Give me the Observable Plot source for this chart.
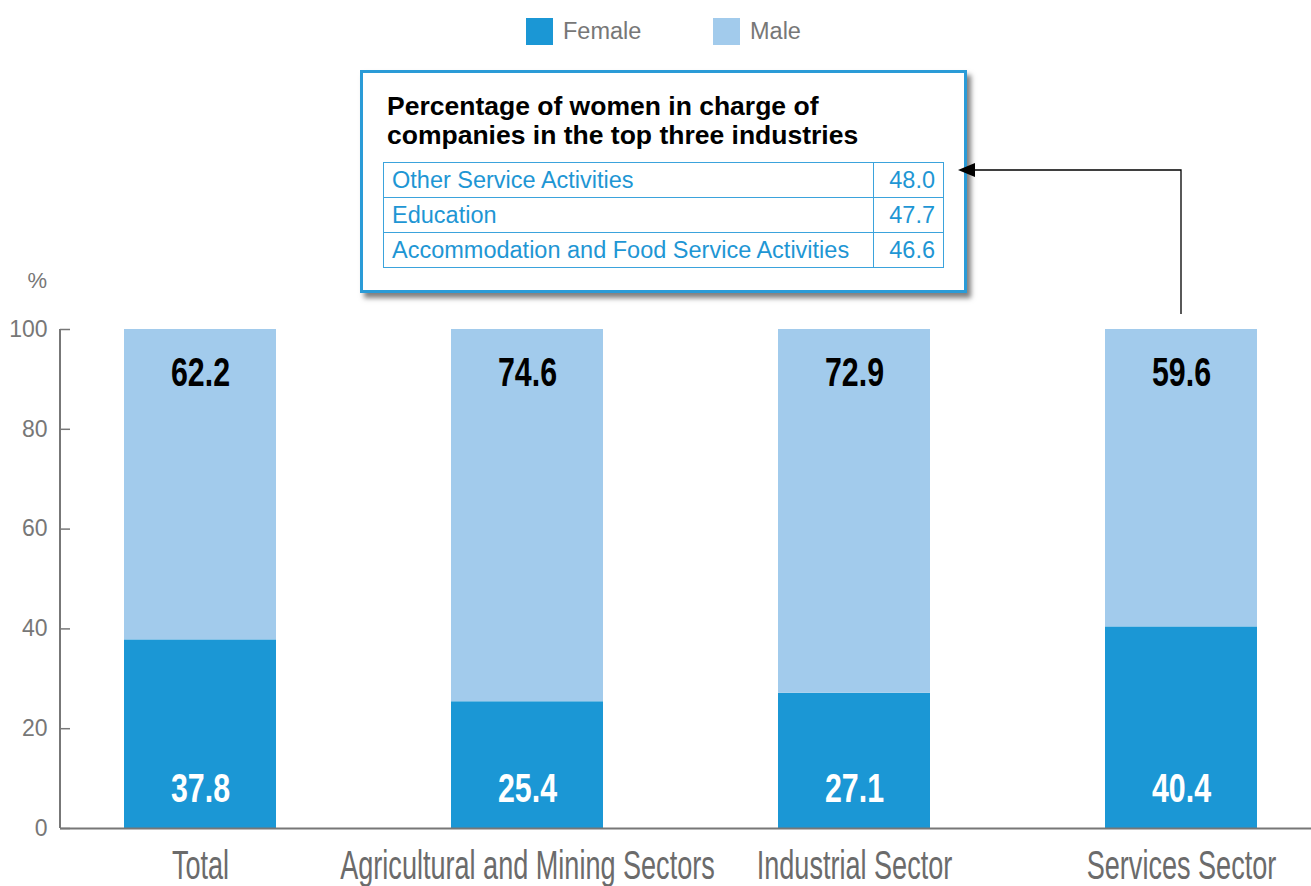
<!DOCTYPE html>
<html>
<head>
<meta charset="utf-8">
<script src="https://cdn.jsdelivr.net/npm/d3@7"></script>
<script src="https://cdn.jsdelivr.net/npm/@observablehq/plot@0.6"></script>
<style>
  body { margin: 0; background: #fff; font-family: "Liberation Sans", Arial, sans-serif; }
  #wrap { position: relative; width: 1311px; height: 886px; overflow: hidden; }
  #legend { height: 62px; display: flex; align-items: center; padding-left: 526px; box-sizing: border-box; }
  .item { display: flex; align-items: center; font-size: 23.5px; color: #777; }
  .sw { width: 27px; height: 27px; margin-right: 10px; }
  #box { position: absolute; left: 360px; top: 70px; width: 607px; height: 223px; box-sizing: border-box;
         border: 3px solid #2a9bd7; background: #fff; box-shadow: 4px 5px 5px rgba(0,0,0,0.5); }
  #box h3 { margin: 0; position: absolute; left: 24px; top: 19px; font-size: 26.5px; line-height: 29px;
            font-weight: bold; color: #000; white-space: nowrap; }
  #box table { position: absolute; left: 20px; top: 89px; width: 561px; border-collapse: collapse; }
  #box td { border: 1.5px solid #3ba3dc; height: 35px; padding: 0 8px; font-size: 23.5px; color: #1e96d4;
            box-sizing: border-box; white-space: nowrap; }
  #box td.v { text-align: right; width: 70px; }
  #overlay { position: absolute; left: 0; top: 0; pointer-events: none; }
</style>
</head>
<body>
<div id="wrap">
  <div id="legend"></div>
  <div id="chart"></div>
  <div id="box"></div>
  <svg id="overlay" width="1311" height="886"></svg>
</div>
<script>
const categories = ["Total", "Agricultural and Mining Sectors", "Industrial Sector", "Services Sector"];
const female = [37.8, 25.4, 27.1, 40.4];
const male = [62.2, 74.6, 72.9, 59.6];
const seriesNames = ["Female", "Male"];
const seriesColors = ["#1b97d5", "#a2cbec"];
const yTicks = [0, 20, 40, 60, 80, 100];
const yUnit = "%";
const boxTitle = ["Percentage of women in charge of", "companies in the top three industries"];
const topIndustries = ["Other Service Activities", "Education", "Accommodation and Food Service Activities"];
const topShares = [48.0, 47.7, 46.6];
const highlighted = "Services Sector";

// legend
const legend = d3.select("#legend");
seriesNames.forEach((s, i) => {
  const it = legend.append("div").attr("class", "item").style("width", i === 0 ? "187px" : null);
  it.append("div").attr("class", "sw").style("background", seriesColors[i]);
  it.append("span").text(s);
});

const rows = categories.flatMap((c, i) => [
  {cat: c, sex: seriesNames[0], value: female[i]},
  {cat: c, sex: seriesNames[1], value: male[i]}
]);

const chart = Plot.plot({
  width: 1311,
  height: 824,
  marginTop: 267,
  marginBottom: 58,
  marginLeft: 60,
  marginRight: 0,
  style: {fontFamily: "'Liberation Sans', Arial, sans-serif", background: "transparent", overflow: "visible"},
  x: {domain: categories, paddingInner: 0.5356, paddingOuter: 0.1788, align: 0.538, axis: null},
  y: {domain: [0, 100], axis: null},
  color: {domain: seriesNames, range: seriesColors},
  marks: [
    Plot.barY(rows, {x: "cat", y: "value", fill: "sex", order: seriesNames}),
    Plot.axisY({ticks: yTicks, tickSize: -10, tickPadding: 23, fontSize: 23, color: "#777",
                strokeWidth: 1.5, tickFormat: d => d, label: null}),
    Plot.ruleY([0], {stroke: "#777", strokeWidth: 2}),
    Plot.text([yUnit], {frameAnchor: "top-left", dx: -33, dy: -57, fontSize: 22, fill: "#777"}),
    Plot.text(female, {x: (d, i) => categories[i], frameAnchor: "bottom", dy: -27, text: d => d.toFixed(1),
                       fontSize: 41, fontWeight: "bold", fill: "#fff", className: "vlabel"}),
    Plot.text(male, {x: (d, i) => categories[i], frameAnchor: "top", dy: 27, text: d => d.toFixed(1),
                     fontSize: 41, fontWeight: "bold", fill: "#000", className: "vlabel"}),
    Plot.text(categories, {x: d => d, frameAnchor: "bottom", dy: 50, fontSize: 41, fill: "#6b6b6b",
                           className: "catlabel"})
  ]
});
document.getElementById("chart").appendChild(chart);

// y axis line along the frame's left edge
const yScale = chart.scale("y");
d3.select(chart).append("line")
  .attr("x1", 60).attr("x2", 60)
  .attr("y1", yScale.apply(100)).attr("y2", yScale.apply(0))
  .attr("stroke", "#777").attr("stroke-width", 2);

// condensed look for the value and category labels
function condense(sel, k) {
  chart.querySelectorAll(sel).forEach(t => {
    const w = t.getComputedTextLength();
    t.setAttribute("textLength", w * k);
    t.setAttribute("lengthAdjust", "spacingAndGlyphs");
  });
}
condense(".vlabel text", 0.74);
condense(".catlabel text", 0.66);

// annotation box
const box = d3.select("#box");
box.append("h3").html(boxTitle.join("<br>"));
const tb = box.append("table");
topIndustries.forEach((name, i) => {
  const tr = tb.append("tr");
  tr.append("td").text(name);
  tr.append("td").attr("class", "v").text(topShares[i].toFixed(1));
});

// connector arrow from the highlighted bar to the box
const xs = chart.scale("x");
const sx = xs.apply(highlighted) + xs.bandwidth / 2;
const chartTop = 62;
const barTop = chartTop + yScale.apply(100);
const ov = d3.select("#overlay");
const ay = 170, tipX = 958;
ov.append("path")
  .attr("d", `M${sx},${barTop - 15}V${ay}H${tipX + 14}`)
  .attr("fill", "none").attr("stroke", "#000").attr("stroke-width", 1.3);
ov.append("path")
  .attr("d", `M${tipX},${ay}L${tipX + 17},${ay - 7}L${tipX + 17},${ay + 7}Z`)
  .attr("fill", "#000");
</script>
</body>
</html>
